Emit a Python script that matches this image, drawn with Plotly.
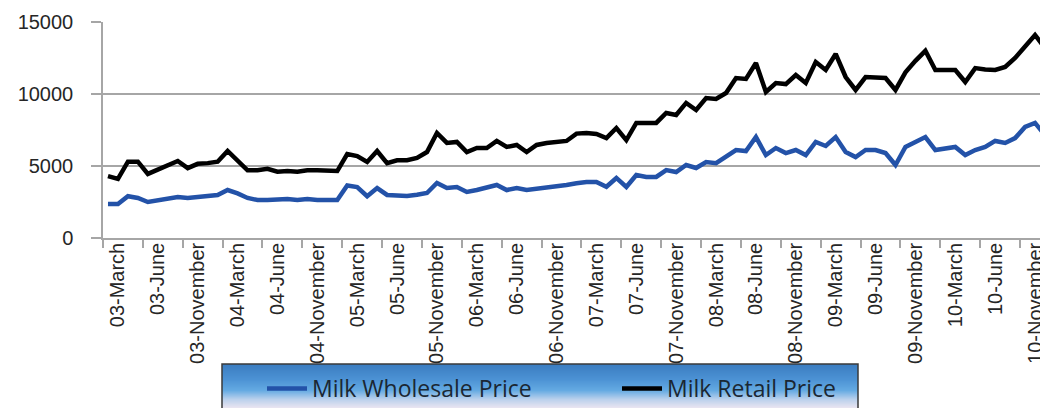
import plotly.graph_objects as go

# ---- data ----
YEARS = ["03", "04", "05", "06", "07", "08", "09", "10"]
MONTH_LABELS = ["March", "June", "November"]
TICK_LABELS = [f"{y}-{m}" for y in YEARS for m in MONTH_LABELS]

wholesale = [2360, 2360, 2900, 2780, 2500, 2600, 2700, 2850, 2780, 2850,
             2900, 2980, 3330, 3100, 2780, 2640, 2640, 2700, 2700, 2640,
             2700, 2640, 2640, 2640, 3650, 3540, 2900, 3470, 2990, 2920,
             2920, 3000, 3125, 3820, 3470, 3540, 3200, 3330, 3470, 3680,
             3330, 3470, 3330, 3400, 3540, 3600, 3680, 3800, 3890, 3890,
             3560, 4170, 3540, 4375, 4240, 4240, 4720, 4580, 5070, 4860,
             5280, 5200, 5620, 6110, 6040, 7010, 5760, 6250, 5900, 6110,
             5760, 6670, 6390, 7010, 5970, 5620, 6110, 6110, 5900, 5070,
             6320, 6700, 7010, 6110, 6250, 6320, 5760, 6110, 6320, 6740,
             6600, 6940, 7710, 7990, 7150]

retail = [4300, 4100, 5300, 5300, 4450, 4750, 5000, 5350, 4850, 5150,
          5200, 5300, 6050, 5400, 4700, 4700, 4800, 4600, 4650, 4600,
          4700, 4700, 4650, 4650, 5830, 5690, 5280, 6040, 5200, 5400,
          5400, 5560, 5970, 7290, 6600, 6670, 5970, 6250, 6250, 6740,
          6320, 6460, 5970, 6460, 6600, 6670, 6740, 7250, 7290, 7220,
          6940, 7640, 6800, 7990, 7990, 7990, 8680, 8540, 9380, 8890,
          9720, 9650, 10070, 11110, 11050, 12150, 10140, 10760, 10690, 11320,
          10760, 12220, 11670, 12780, 11180, 10280, 11180, 11110, 11110, 10280,
          11500, 12300, 13000, 11670, 11670, 11670, 10830, 11800, 11700, 11670,
          11880, 12500, 13300, 14100, 13190]

SERIES_NAMES = ["Milk Wholesale Price", "Milk Retail Price"]
Y_TICKS = [0, 5000, 10000, 15000]
Y_TICK_TEXT = ["0", "5000", "10000", "15000"]

# ---- layout geometry (pixels); the page body adds an 8px offset ----
OFF = 8
W, H = 1040, 400
ML, MR, MT, MB = 95, 0, 14, 170
PW, PH = W - ML - MR, H - MT - MB


def px_x(p):  # absolute viewport x -> paper
    return (p - OFF - ML) / PW


def px_y(p):  # absolute viewport y -> paper
    return (H - MB - (p - OFF)) / PH


idx = list(range(len(retail)))
GROUP = 4

fig = go.Figure()
fig.add_trace(go.Scatter(x=idx, y=wholesale, mode="lines", name=SERIES_NAMES[0],
                         line=dict(color="#2352a8", width=4.5)))
fig.add_trace(go.Scatter(x=idx, y=retail, mode="lines", name=SERIES_NAMES[1],
                         line=dict(color="#000000", width=4.5)))

tickvals = [GROUP * k + 1.0 for k in range(len(TICK_LABELS))]

# legend gradient background drawn as strips
stops = [(0.0, (58, 124, 192)), (0.35, (76, 146, 212)), (0.6, (100, 170, 226)),
         (0.8, (185, 208, 236)), (1.0, (234, 229, 241))]


def col(f):
    for (f0, c0), (f1, c1) in zip(stops[:-1], stops[1:]):
        if f0 <= f <= f1:
            t = (f - f0) / (f1 - f0) if f1 > f0 else 0
            return "rgb(%d,%d,%d)" % tuple(round(a + (b - a) * t) for a, b in zip(c0, c1))
    return "rgb(%d,%d,%d)" % stops[-1][1]


shapes = []
box_l, box_r, box_t, box_b = 222, 858, 364, 408
nstrip = 44
for s in range(nstrip):
    y0 = box_t + (box_b - box_t) * s / nstrip
    y1 = box_t + (box_b - box_t) * (s + 1) / nstrip
    shapes.append(dict(type="rect", xref="paper", yref="paper",
                       x0=px_x(box_l), x1=px_x(box_r), y0=px_y(y1 + 0.5), y1=px_y(y0),
                       fillcolor=col((s + 0.5) / nstrip), line=dict(width=0), layer="above"))
shapes.append(dict(type="rect", xref="paper", yref="paper",
                   x0=px_x(box_l), x1=px_x(box_r), y0=px_y(box_b + 20), y1=px_y(box_t),
                   line=dict(color="#3a3a3a", width=1.5), fillcolor="rgba(0,0,0,0)", layer="above"))

fig.update_layout(
    width=W, height=H,
    margin=dict(l=ML, r=MR, t=MT, b=MB, autoexpand=False),
    paper_bgcolor="white", plot_bgcolor="white",
    shapes=shapes,
    showlegend=True,
    legend=dict(orientation="h", x=px_x(262), y=px_y(367), xanchor="left", yanchor="top",
                bgcolor="rgba(0,0,0,0)", borderwidth=0,
                font=dict(family="Open Sans", size=23, color="#1b2733"),
                entrywidth=300, entrywidthmode="pixels", itemwidth=40),
    xaxis=dict(range=[-0.5, 94.3], tickmode="array", tickvals=tickvals, ticktext=TICK_LABELS,
               tickangle=-90, ticks="", showgrid=False, zeroline=False,
               showline=True, linecolor="#a6a6a6", linewidth=1.5,
               tickfont=dict(family="Liberation Sans, Arial", size=20, color="#262626"),
               ticklabelstandoff=-5,
               minor=dict(tickmode="linear", tick0=-0.5, dtick=GROUP, ticks="outside",
                          ticklen=8, tickcolor="#a6a6a6", tickwidth=1.5, showgrid=False)),
    yaxis=dict(range=[0, 15000], tickmode="array", tickvals=Y_TICKS, ticktext=Y_TICK_TEXT,
               showgrid=True, gridcolor="#a6a6a6", gridwidth=1.5, zeroline=False,
               showline=True, linecolor="#a6a6a6", linewidth=1.5,
               ticks="outside", ticklen=10, tickcolor="#a6a6a6", tickwidth=1.5,
               ticklabelstandoff=14,
               tickfont=dict(family="Liberation Sans, Arial", size=20, color="#262626")),
)

fig.write_html("out.html")
